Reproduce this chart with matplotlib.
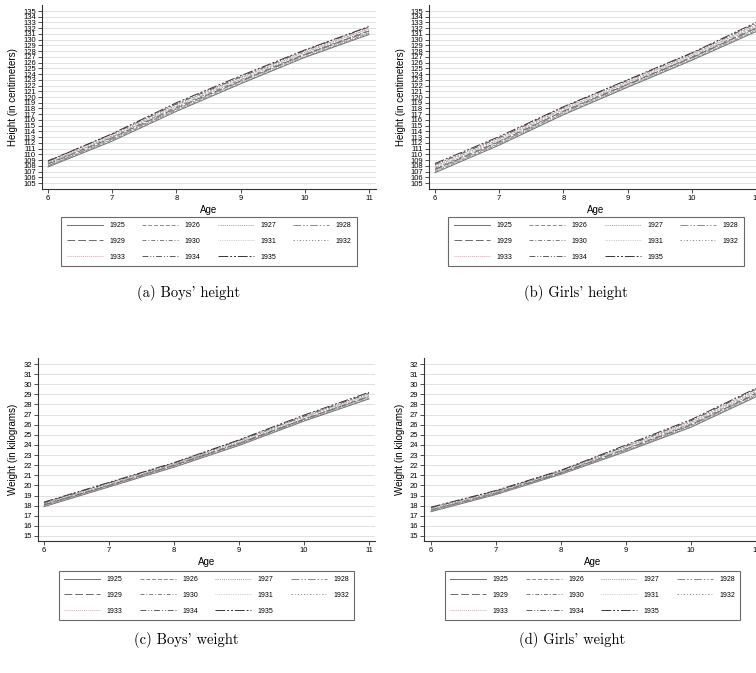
"""Height and weight by age for birth cohorts 1925-1935"""
import matplotlib
matplotlib.use("Agg")
import matplotlib.pyplot as plt

ages = [6, 7, 8, 9, 10, 11]
cohorts = ["1925", "1926", "1927", "1928", "1929", "1930",
           "1931", "1932", "1933", "1934", "1935"]

boys_height = [
    [107.8, 112.3, 117.5, 122.3, 126.9, 130.9],
    [107.9, 112.5, 117.7, 122.4, 127.0, 131.1],
    [108.1, 112.6, 117.9, 122.6, 127.2, 131.2],
    [108.0, 112.7, 117.9, 122.7, 127.3, 131.4],
    [108.3, 112.9, 118.1, 122.8, 127.4, 131.5],
    [108.4, 113.0, 118.3, 123.0, 127.5, 131.6],
    [108.6, 113.1, 118.4, 123.1, 127.7, 131.8],
    [108.5, 113.2, 118.6, 123.3, 127.8, 131.9],
    [108.7, 113.4, 118.7, 123.4, 127.9, 132.0],
    [108.9, 113.5, 118.8, 123.5, 128.1, 132.2],
    [108.8, 113.6, 119.0, 123.7, 128.2, 132.3],
]
girls_height = [
    [106.8, 111.6, 116.9, 121.7, 126.4, 131.4],
    [107.0, 111.8, 117.0, 121.8, 126.5, 131.6],
    [107.1, 111.9, 117.2, 121.9, 126.7, 131.7],
    [107.3, 112.0, 117.3, 122.1, 126.8, 131.9],
    [107.4, 112.2, 117.5, 122.2, 126.9, 132.0],
    [107.6, 112.3, 117.6, 122.3, 127.0, 132.2],
    [107.7, 112.5, 117.7, 122.5, 127.2, 132.3],
    [107.9, 112.6, 117.9, 122.6, 127.3, 132.5],
    [108.0, 112.8, 118.0, 122.7, 127.4, 132.6],
    [108.2, 112.9, 118.2, 122.9, 127.6, 132.8],
    [108.4, 113.1, 118.3, 123.0, 127.7, 133.0],
]
boys_weight = [
    [17.9, 19.85, 21.8, 23.95, 26.35, 28.55],
    [18.0, 19.9, 21.85, 24.0, 26.4, 28.6],
    [18.0, 19.95, 21.9, 24.05, 26.45, 28.7],
    [18.05, 20.0, 21.95, 24.1, 26.5, 28.75],
    [18.1, 20.0, 22.0, 24.15, 26.55, 28.8],
    [18.15, 20.05, 22.05, 24.2, 26.6, 28.85],
    [18.2, 20.1, 22.1, 24.3, 26.65, 28.9],
    [18.2, 20.15, 22.1, 24.35, 26.75, 29.0],
    [18.25, 20.2, 22.15, 24.4, 26.8, 29.05],
    [18.3, 20.25, 22.2, 24.45, 26.85, 29.1],
    [18.35, 20.3, 22.25, 24.5, 26.95, 29.2],
]
girls_weight = [
    [17.4, 19.1, 21.1, 23.35, 25.75, 28.75],
    [17.45, 19.15, 21.15, 23.4, 25.8, 28.85],
    [17.5, 19.15, 21.2, 23.45, 25.9, 28.9],
    [17.55, 19.2, 21.2, 23.5, 25.95, 29.0],
    [17.6, 19.25, 21.25, 23.6, 26.0, 29.05],
    [17.6, 19.3, 21.3, 23.65, 26.1, 29.15],
    [17.65, 19.3, 21.35, 23.7, 26.15, 29.2],
    [17.7, 19.35, 21.4, 23.8, 26.25, 29.3],
    [17.75, 19.4, 21.4, 23.85, 26.3, 29.4],
    [17.8, 19.45, 21.45, 23.9, 26.4, 29.5],
    [17.85, 19.5, 21.5, 24.0, 26.5, 29.6],
]

# stata-like line patterns and grey shades
colors = ["#707070", "#8c8c8c", "#9a9a9a", "#8a8a8a", "#6a6a6a", "#7c7c7c",
          "#c4c4c4", "#8e8e8e", "#dba7ae", "#5a5a5a", "#353535"]
dashes = [None, (4, 2), (1, 1.2), (8, 2, 1.5, 2, 1.5, 2), (8, 3), (4, 2, 1, 2),
          (0.8, 1), (1.5, 2, 0.8, 2), (1, 1), (6, 2, 1, 2, 1, 2), (10, 2, 2, 2, 2, 2)]

W, H = 756, 673
plt.rcParams["font.family"] = ["Liberation Sans", "DejaVu Sans"]
fig = plt.figure(figsize=(W / 100, H / 100), dpi=100)


def lims(p0, p1, v0, v1, a0, a1):
    s = (v1 - v0) / (p1 - p0)
    return v0 + (a0 - p0) * s, v0 + (a1 - p0) * s


panels = [
    # rect (l, t, r, b), x anchors, y anchors, data, yticks, ylabel, ylabel x, legend top, caption
    ((42, 5, 376, 189), (48, 369), (11, 183, 135, 105), boys_height, range(105, 136),
     "Height (in centimeters)", 13, 217, "(a) Boys' height", 293),
    ((429, 5, 763, 189), (435, 756), (11, 183, 135, 105), girls_height, range(105, 136),
     "Height (in centimeters)", 401, 217, "(b) Girls' height", 293),
    ((38, 358, 375, 541), (44, 369), (364, 536, 32, 15), boys_weight, range(15, 33),
     "Weight (in kilograms)", 13, 571, "(c) Boys' weight", 640),
    ((424, 358, 761, 541), (431, 756), (364, 536, 32, 15), girls_weight, range(15, 33),
     "Weight (in kilograms)", 400, 571, "(d) Girls' weight", 640),
]

order = [0, 4, 8, 1, 5, 9, 2, 6, 10, 3, 7]

for rect, xa, ya, data, yticks, ylabel, ylx, legtop, caption, capy in panels:
    l, t, r, b = rect
    ax = fig.add_axes([l / W, 1 - b / H, (r - l) / W, (b - t) / H])
    ax.set_xlim(lims(xa[0], xa[1], 6, 11, l, r))
    ax.set_ylim(lims(ya[0], ya[1], ya[2], ya[3], b, t))

    handles = []
    for i, yr in enumerate(cohorts):
        ln, = ax.plot(ages, data[i], color=colors[i], lw=0.7)
        if dashes[i] is not None:
            ln.set_dashes(dashes[i])
        handles.append(ln)

    ax.set_xticks(ages)
    ax.set_yticks(list(yticks))
    ax.grid(axis="y", color="#e2e2e2", lw=0.7)
    ax.set_axisbelow(True)
    for s in ["top", "right"]:
        ax.spines[s].set_visible(False)
    for s in ["left", "bottom"]:
        ax.spines[s].set_color("#333333")
        ax.spines[s].set_linewidth(0.8)
    ax.tick_params(labelsize=5.5, length=3, width=0.6, color="#333333", pad=1.5)
    ax.set_xlabel("Age", fontsize=7, labelpad=2)
    fig.text(ylx / W, 1 - ((t + b) / 2) / H, ylabel, rotation=90, fontsize=7,
             ha="center", va="center")

    cx = (l + r) / 2
    leg = ax.legend([handles[k] for k in order], [cohorts[k] for k in order],
                    ncol=4, loc="upper center", bbox_to_anchor=(cx / W, 1 - legtop / H),
                    bbox_transform=fig.transFigure, fontsize=5, frameon=True,
                    fancybox=False, handlelength=5.2, handletextpad=0.9,
                    columnspacing=2.5, labelspacing=1.25, borderpad=0.75,
                    borderaxespad=0)
    leg.get_frame().set_edgecolor("#444444")
    leg.get_frame().set_linewidth(0.8)

    fig.text(((l + r) / 2 - 20) / W, 1 - capy / H, caption,
             family=["cmr10", "DejaVu Serif"], fontsize=10.5,
             ha="center", va="center")

plt.savefig("out.png", dpi=100)
